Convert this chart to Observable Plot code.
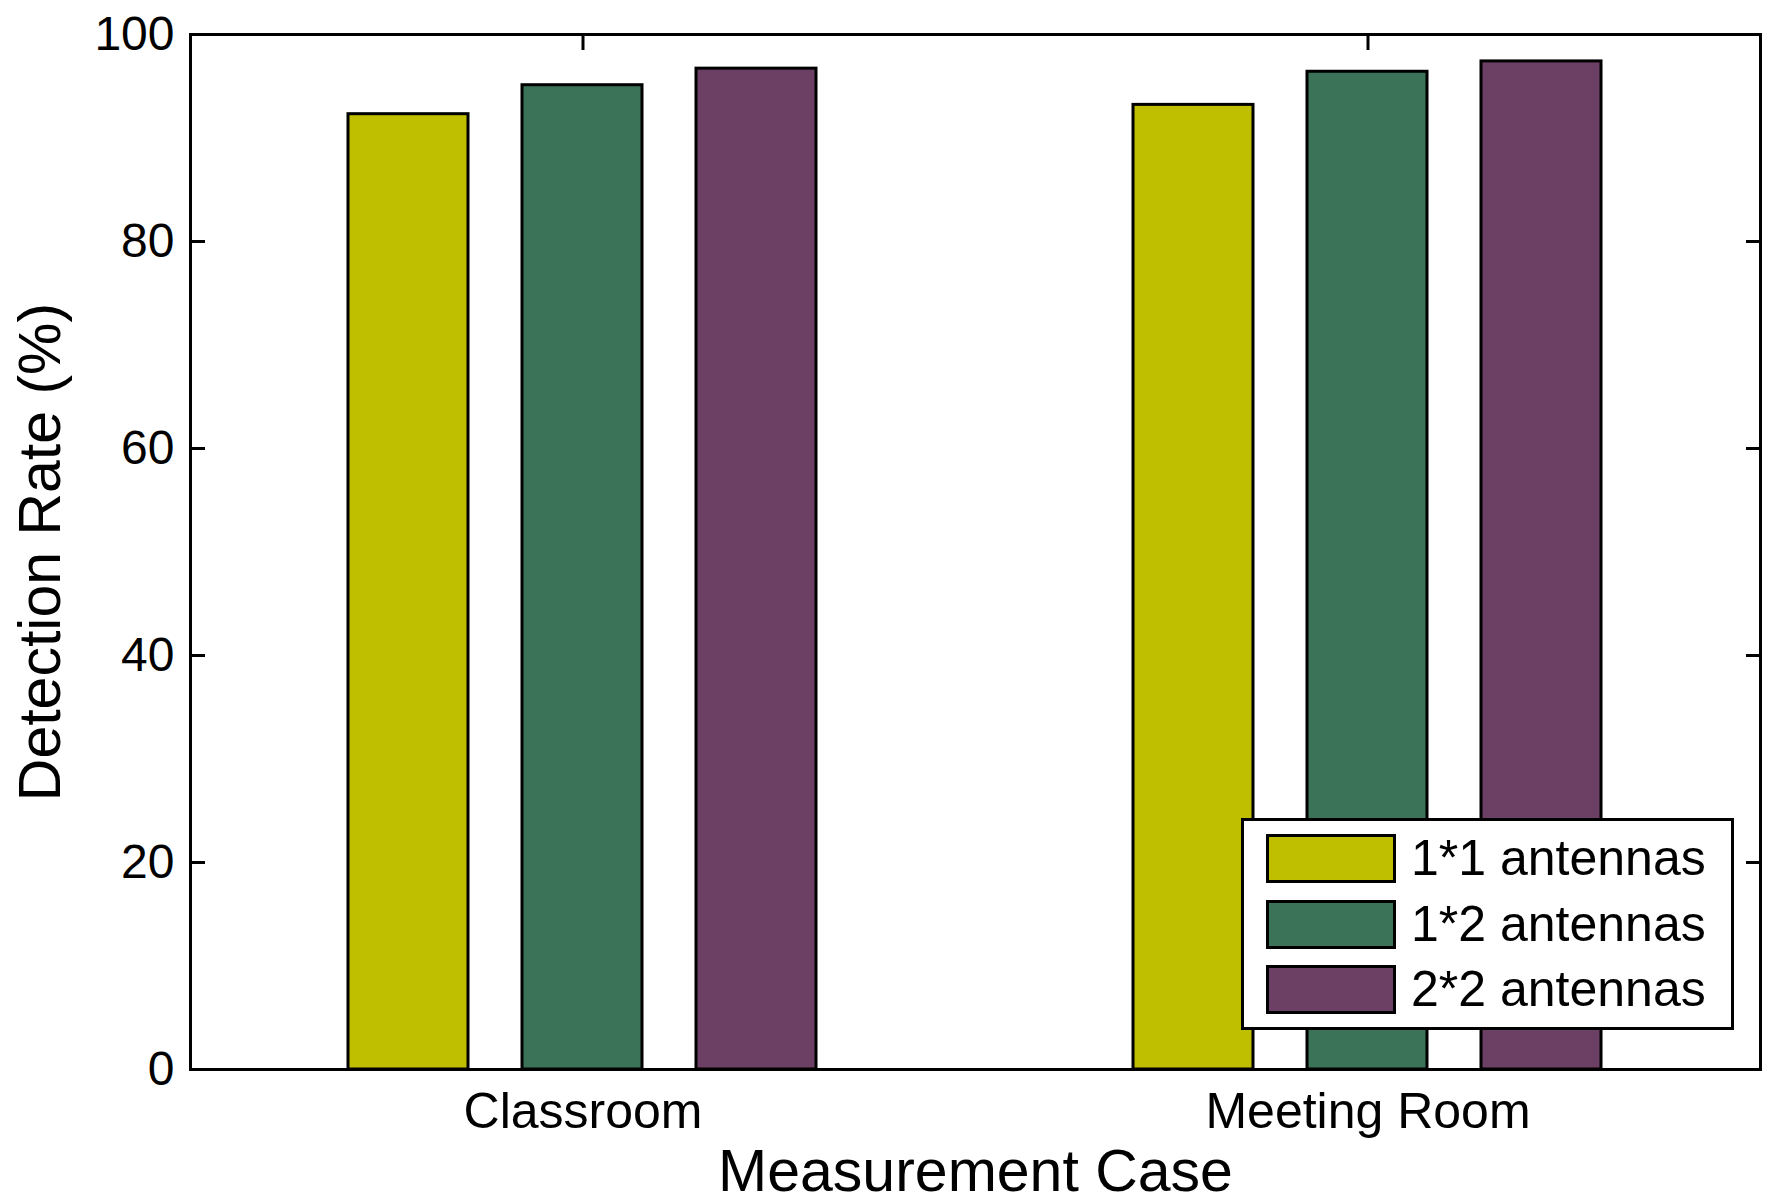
<!DOCTYPE html>
<html>
<head>
<meta charset="utf-8">
<script src="https://cdn.jsdelivr.net/npm/d3@7"></script>
<script src="https://cdn.jsdelivr.net/npm/@observablehq/plot@0.6"></script>
<style>
  body { margin: 0; background: #fff; }
  #wrap { position: relative; width: 1780px; height: 1204px; font-family: 'Liberation Sans', Arial, sans-serif; }
  #legend {
    position: absolute; left: 1241px; top: 818px; width: 493px; height: 212px;
    box-sizing: border-box; border: 3px solid #000; background: #fff;
    padding: 13px 0 0 22px;
  }
  .row { display: flex; align-items: center; height: 49px; margin-bottom: 16.5px; }
  .sw { width: 130px; height: 49px; box-sizing: border-box; border: 3px solid #000; flex: none; }
  .lab { margin-left: 15px; font-size: 50px; line-height: 49px; color: #000; white-space: nowrap; }
</style>
</head>
<body>
<div id="wrap"></div>
<script>
const cases = ["Classroom", "Meeting Room"];
const series = ["1*1 antennas", "1*2 antennas", "2*2 antennas"];
const classroomRates = [92.3, 95.1, 96.7];
const meetingRoomRates = [93.2, 96.4, 97.4];
const seriesColors = ["#bfbf00", "#3b7359", "#6b4064"];
const yTicks = [0, 20, 40, 60, 80, 100];
const yLabel = "Detection Rate (%)";
const xLabel = "Measurement Case";

const rows = [];
[classroomRates, meetingRoomRates].forEach((vals, i) =>
  vals.forEach((v, j) => rows.push({case: cases[i], series: series[j], rate: v}))
);

const chart = Plot.plot({
  width: 1780,
  height: 1204,
  marginLeft: 189,
  marginRight: 20,
  marginTop: 34,
  marginBottom: 135,
  style: {fontFamily: "'Liberation Sans', Arial, sans-serif", background: "white", color: "black"},
  fx: {domain: cases, padding: 0},
  x: {domain: series, paddingInner: 0.31, paddingOuter: 0.9, axis: null},
  y: {domain: [0, 100]},
  color: {domain: series, range: seriesColors},
  marks: [
    Plot.barY(rows, {fx: "case", x: "series", y: "rate", fill: "series", stroke: "black", strokeWidth: 3}),
    Plot.frame({facet: "super", stroke: "black", strokeWidth: 3}),
    Plot.axisY(yTicks, {anchor: "left", tickSize: -15, tickPadding: 31, fontSize: 48, strokeWidth: 3, label: null}),
    Plot.axisY(yTicks, {anchor: "right", tickSize: -15, tickFormat: () => "", strokeWidth: 3, label: null}),
    Plot.axisFx({anchor: "top", tickSize: -15, tickFormat: () => "", strokeWidth: 3, label: null}),
    Plot.axisFx({anchor: "bottom", tickSize: 0, tickPadding: 23, fontSize: 50, label: null}),
    Plot.text([yLabel], {facet: "super", text: d => d, frameAnchor: "left", textAnchor: "middle", rotate: -90, lineAnchor: "top", dx: -172, fontSize: 59}),
    Plot.text([xLabel], {facet: "super", text: d => d, frameAnchor: "bottom", textAnchor: "middle", lineAnchor: "top", dy: 80, fontSize: 59})
  ]
});

const wrap = document.getElementById("wrap");
wrap.appendChild(chart);

const legend = document.createElement("div");
legend.id = "legend";
series.forEach((s, i) => {
  const row = document.createElement("div");
  row.className = "row";
  const sw = document.createElement("div");
  sw.className = "sw";
  sw.style.background = seriesColors[i];
  const lab = document.createElement("div");
  lab.className = "lab";
  lab.textContent = s;
  row.appendChild(sw);
  row.appendChild(lab);
  legend.appendChild(row);
});
wrap.appendChild(legend);
</script>
</body>
</html>
